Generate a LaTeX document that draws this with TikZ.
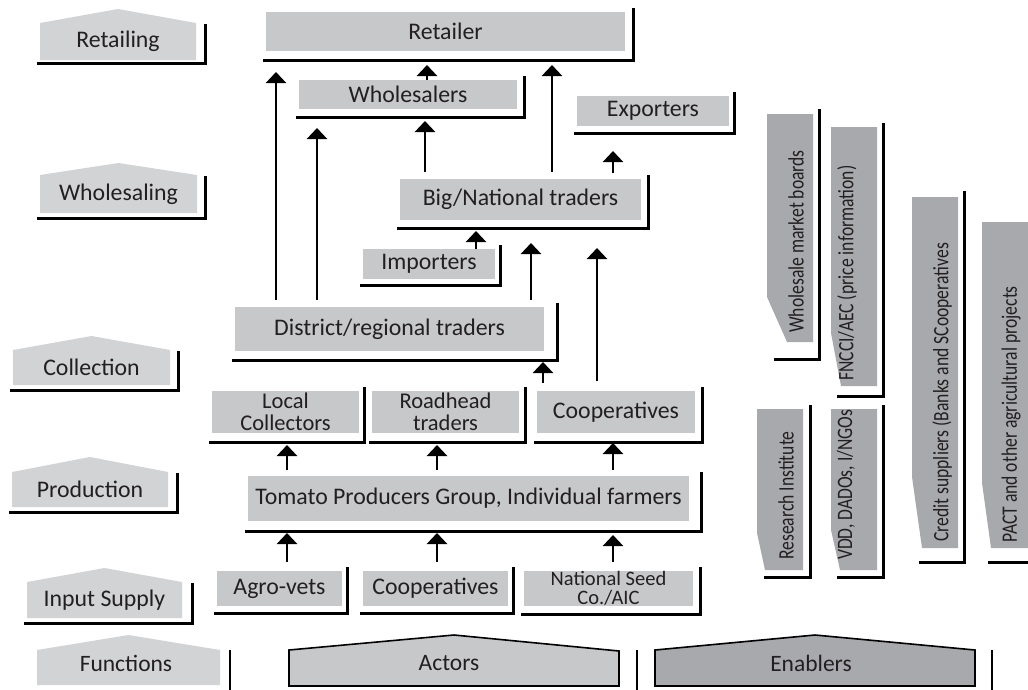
\documentclass[tikz,border=0pt]{standalone}
\usepackage{fontspec}
\setmainfont{Carlito}
\newfontfamily\condfont[FakeStretch=0.8]{Carlito}
\usetikzlibrary{arrows.meta,calc}
\definecolor{funcgray}{HTML}{D1D3D4}
\definecolor{actgray}{HTML}{C7C8CA}
\definecolor{engray}{HTML}{A7A9AC}
\definecolor{txt}{HTML}{231F20}
\tikzset{
  actor/.style={fill=actgray, inner sep=0pt, outer sep=0pt, align=center,
    font=\fontsize{23.8}{19.5}\selectfont, text=txt},
  twoline/.style={font=\fontsize{22.5}{21.5}\selectfont},
  lbl/.style={inner sep=0pt, font=\fontsize{23.8}{28}\selectfont, text=txt},
  legtext/.style={inner sep=0pt, font=\fontsize{23.5}{28}\selectfont, text=txt},
  entext/.style={inner sep=0pt, font=\condfont\fontsize{22}{26}\selectfont, text=txt, rotate=90, anchor=west},
  shadowline/.style={line width=3pt, draw=black},
  sepline/.style={line width=2.5pt, draw=black},
  arr/.style={line width=2.6pt, draw=black, -{Triangle[width=20pt,length=11pt]}},
  legbox/.style={draw=black, line width=1.6pt, line join=miter},
}
% function label: name, x1, x2, peak y, shoulder y, bottom y, right line x, bottom line y, text
\newcommand\fnlabel[9]{%
  \fill[funcgray] (#2,#6) -- (#2,#5) -- ({(#2+#3)/2},#4) -- (#3,#5) -- (#3,#6) -- cycle;
  \node[lbl] (#1) at ({(#2+#3)/2},{(#5+#6)/2}) {#9};
  \draw[shadowline] (#2-3,#8) -- (#7,#8) -- (#7,#5+1);
}
% actor box: [style] name, x1, y1, x2, y2, right line x, bottom line y, text
\newcommand\abox[9][]{%
  \node[actor, minimum width={#5-#3}, minimum height={#6-#4}, #1] (#2) at ({(#3+#5)/2},{(#4+#6)/2}) {#9};
  \draw[shadowline] (#3-3,#8) -- (#7,#8) -- (#7,#4-4);
}
% arrow: source, target, x, gap above source top, offset below target bottom
\newcommand\upar[5]{%
  \draw[arr] ($(#1.north -| #3,0)+(0,-#4)$) -- ($(#2.south -| #3,0)+(0,#5)$);
}
\begin{document}
\begin{tikzpicture}[x=1pt, y=-1pt]
\useasboundingbox (0,0) rectangle (1028,689);

% ---------- functions ----------
\fnlabel{retailing}{40}{196}{9}{23}{60}{205}{63}{Retailing}
\fnlabel{wholesaling}{40}{197}{163}{175}{213}{205}{218}{Wholesaling}
\fnlabel{collection}{13}{170}{336}{350}{385}{178}{390}{Collection}
\fnlabel{production}{12}{168}{457}{472}{507}{177}{512}{Production}
\fnlabel{inputsupply}{27}{182}{568}{582}{618}{192}{623}{Input Supply}

% ---------- actors ----------
\abox{retailer}{266}{12}{625}{51}{633}{60}{Retailer}
\abox{wholesalers}{299}{80}{517}{109}{524}{117}{Wholesalers}
\abox{exporters}{577}{96}{729}{126}{734}{133}{Exporters}
\abox{big}{400}{179}{641}{220}{648}{228}{Big/National traders}
\abox{importers}{363}{249}{495}{279}{500}{285}{Importers}
\abox{district}{235}{307}{544}{351}{557}{360}{District/regional traders}
\abox[twoline]{local}{212}{391}{359}{433}{364}{442}{Local\\Collectors}
\abox[twoline]{roadhead}{372}{391}{519}{433}{525}{442}{Roadhead\\traders}
\abox{coopC}{537}{391}{695}{433}{702}{442}{Cooperatives}
\abox{tomato}{248}{476}{689}{521}{701}{531}{Tomato Producers Group, Individual farmers}
\abox{agro}{217}{571}{342}{606}{347}{613}{Agro-vets}
\abox{coopI}{363}{571}{508}{606}{513}{613}{Cooperatives}
\abox[font=\fontsize{20.5}{18.5}\selectfont]{natseed}{524}{571}{693}{606}{700}{614}{National Seed\\Co./AIC}

% ---------- arrows ----------
\upar{district}{retailer}{276}{7}{21}
\upar{district}{wholesalers}{317}{7}{19}
\upar{wholesalers}{retailer}{427}{0}{14}
\upar{big}{wholesalers}{425}{7}{12}
\upar{big}{retailer}{552}{7}{14}
\upar{big}{exporters}{613}{6}{25}
\upar{importers}{big}{476}{0}{11}
\upar{district}{big}{531}{7}{23}
\upar{coopC}{big}{597}{10}{28}
\upar{coopC}{district}{543}{8}{11}
\upar{tomato}{local}{287}{6}{12}
\upar{tomato}{roadhead}{437}{6}{12}
\upar{tomato}{coopC}{613}{6}{10}
\upar{agro}{tomato}{287}{9}{12}
\upar{coopI}{tomato}{437}{9}{12}
\upar{natseed}{tomato}{613}{9}{14}

% ---------- enablers ----------
\fill[engray] (767,114) -- (813,114) -- (813,342) -- (787,342) -- (767,297) -- cycle;
\node[entext] (wmb) at (796,333) {Wholesale market boards};
\draw[shadowline] (774,359) -- (819,359) -- (819,109);

\fill[engray] (831,127) -- (877,127) -- (877,386) -- (841,386) -- (831,333) -- cycle;
\node[entext] (fncci) at (847,381) {FNCCI/AEC (price information)};
\draw[shadowline] (837,396) -- (883,396) -- (883,123);

\fill[engray] (757,409) -- (803,409) -- (803,570) -- (765,570) -- (757,533) -- cycle;
\node[entext] (research) at (786,560) {Research Institute};
\draw[shadowline] (764,577) -- (810,577) -- (810,405);

\fill[engray] (831,409) -- (877,409) -- (877,570) -- (840,570) -- (831,530) -- cycle;
\node[entext] (vdd) at (846,560) {VDD, DADOs, I/NGOs};
\draw[shadowline] (837,577) -- (883,577) -- (883,405);

\fill[engray] (912,197) -- (958,197) -- (958,548) -- (922,548) -- (912,477) -- cycle;
\node[entext] (credit) at (942,542) {Credit suppliers (Banks and SCooperatives};
\draw[shadowline] (919,562) -- (964,562) -- (964,191);

\fill[engray] (982,222) -- (1030,222) -- (1030,548) -- (991,548) -- (982,483) -- cycle;
\node[entext] (pact) at (1011,543) {PACT and other agricultural projects};
\draw[shadowline] (988,562) -- (1030,562);

% ---------- legend ----------
\fill[funcgray] (37,685) -- (37,650) -- (128.5,635) -- (220,650) -- (220,685) -- cycle;
\node[legtext] (functions) at (126,663) {Functions};
\draw[sepline] (230,650) -- (230,690);

\filldraw[legbox, fill=actgray] (289,686) -- (289,650) -- (454,635) -- (619,651) -- (619,686) -- cycle;
\node[legtext] (actors) at (449,663) {Actors};
\draw[sepline] (637,650) -- (637,690);

\filldraw[legbox, fill=engray] (655,686) -- (655,650) -- (815,635) -- (975,650) -- (975,686) -- cycle;
\node[legtext] (enablers) at (811,663) {Enablers};
\draw[sepline] (992,650) -- (992,690);
\end{tikzpicture}
\end{document}
